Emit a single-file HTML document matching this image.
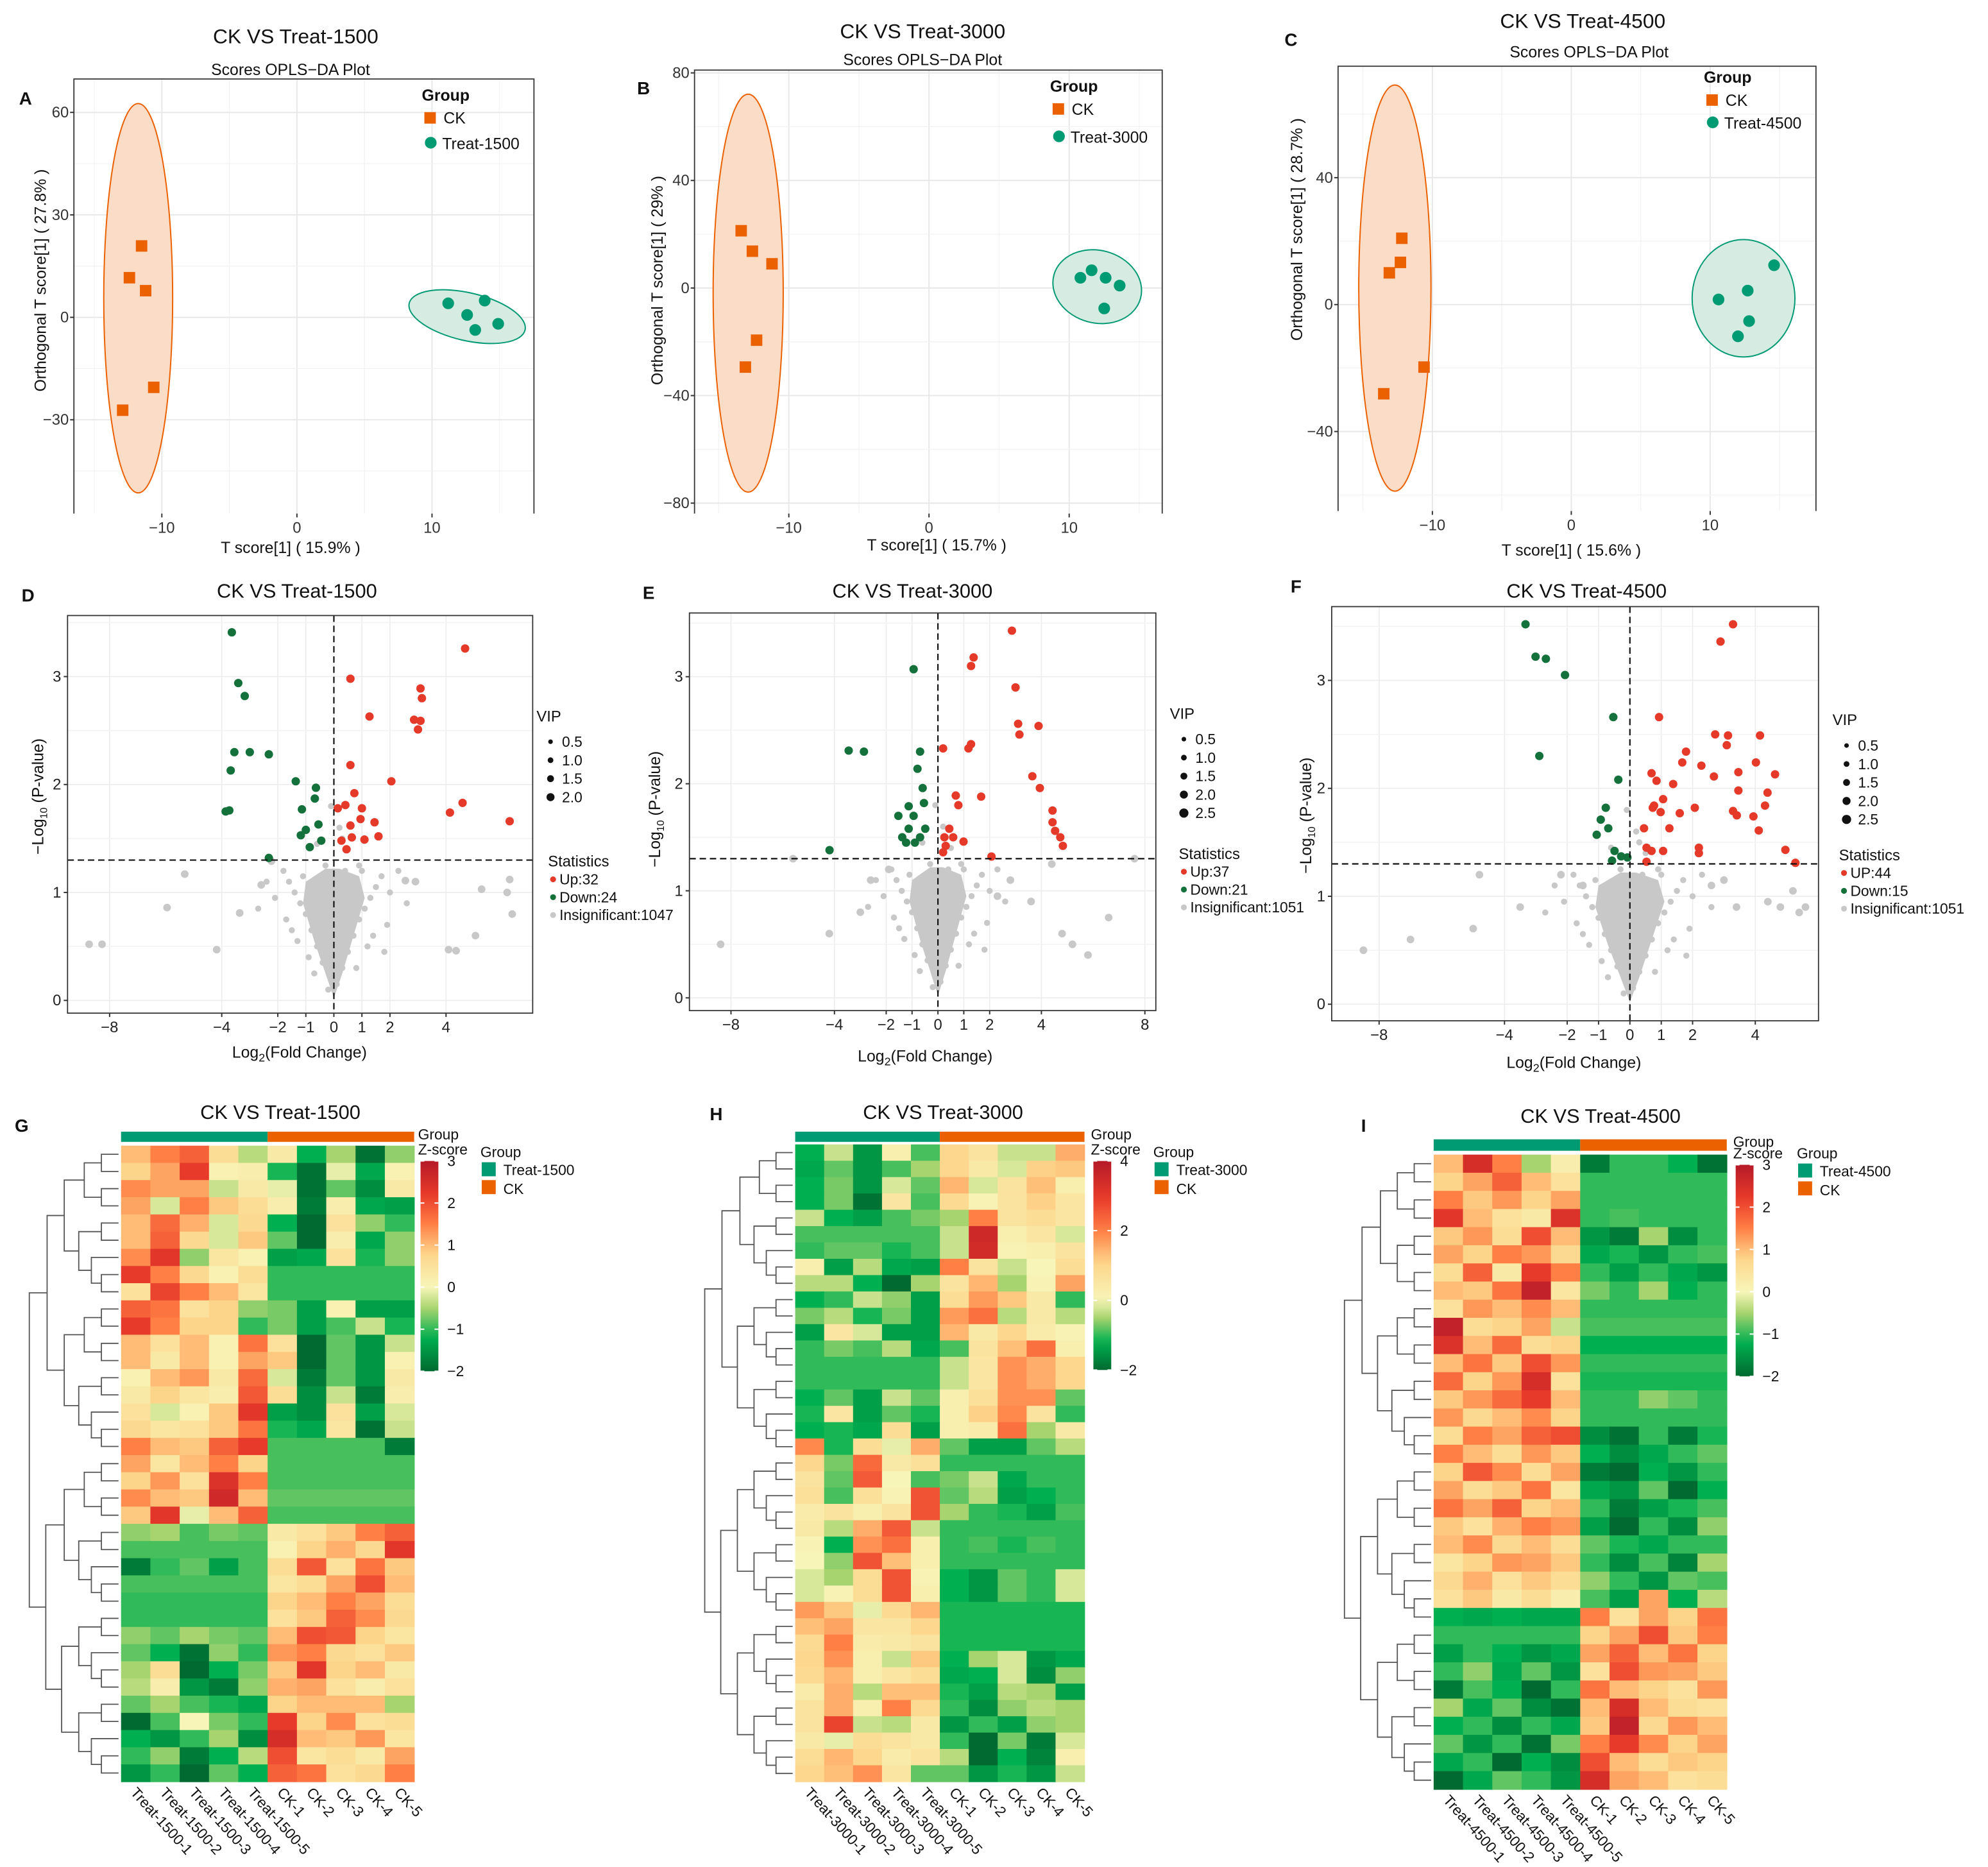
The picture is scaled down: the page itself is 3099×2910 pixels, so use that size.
<!DOCTYPE html>
<html><head><meta charset="utf-8"><style>
html,body{margin:0;padding:0;background:#fff;}
svg{display:block;font-family:"Liberation Sans",Arial,sans-serif;}
</style></head><body>
<svg id="fig" xmlns="http://www.w3.org/2000/svg" width="3099" height="2910" viewBox="0 0 1560 1465" preserveAspectRatio="none"></svg>
<script>
// ---------------- PCA data ----------------
const pcaA_ckX=[-11.5,-12.4,-11.2,-10.6,-12.9];
const pcaA_ckY=[20.9,11.6,7.8,-20.5,-27.2];
const pcaA_trX=[11.2,12.6,13.9,13.2,14.9];
const pcaA_trY=[4.1,0.7,4.9,-3.7,-1.9];
const pcaB_ckX=[-13.4,-12.6,-11.2,-12.3,-13.1];
const pcaB_ckY=[21.3,13.7,9.0,-19.4,-29.4];
const pcaB_trX=[10.8,11.6,12.6,13.6,12.5];
const pcaB_trY=[3.8,6.6,3.8,0.9,-7.6];
const pcaC_ckX=[-12.2,-13.1,-12.3,-10.6,-13.5];
const pcaC_ckY=[20.9,10.0,13.3,-19.7,-28.1];
const pcaC_trX=[10.6,12.7,14.6,12.8,12.0];
const pcaC_trY=[1.6,4.4,12.4,-5.2,-10.0];
const pcaA_ticksX=[-10,0,10], pcaA_ticksY=[60,30,0,-30];
const pcaB_ticksX=[-10,0,10], pcaB_ticksY=[80,40,0,-40,-80];
const pcaC_ticksX=[-10,0,10], pcaC_ticksY=[40,0,-40];
// ---------------- Volcano data ----------------
const volD_upX=[4.68,3.09,3.14,2.86,3.09,3.0,1.27,0.59,2.05,0.59,4.14,4.59,6.27,0.14,0.41,0.73,1.0,0.95,0.59,1.45,1.09,0.64,0.27,0.45,1.59];
const volD_upY=[3.26,2.89,2.80,2.60,2.59,2.51,2.63,2.98,2.03,2.18,1.74,1.83,1.66,1.78,1.81,1.92,1.78,1.68,1.62,1.65,1.49,1.51,1.48,1.40,1.52];
const volD_dnX=[-3.64,-3.41,-3.18,-3.55,-3.0,-3.68,-3.86,-3.73,-2.32,-0.64,-0.68,-1.36,-1.14,-0.55,-1.0,-0.45,-0.86,-1.18,-2.32];
const volD_dnY=[3.41,2.94,2.82,2.30,2.30,2.13,1.75,1.76,2.28,1.97,1.87,2.03,1.77,1.63,1.58,1.48,1.42,1.53,1.32];
const volD_nsX=[-8.73,-8.27,-5.95,-5.32,-4.18,-3.36,-2.59,-2.23,2.55,2.91,4.09,4.36,5.05,5.27,6.36,6.18,6.27];
const volD_nsY=[0.52,0.52,0.86,1.17,0.47,0.81,1.07,1.29,1.11,1.10,0.47,0.46,0.60,1.03,0.80,1.0,1.12];
const volE_upX=[2.86,1.38,1.28,3.0,3.10,3.15,3.89,0.2,1.18,1.28,3.65,3.94,4.43,4.43,4.53,4.73,4.83,1.67,0.69,0.79,0.44,0.25,0.59,0.99,0.30,2.07,0.2];
const volE_upY=[3.43,3.18,3.10,2.90,2.56,2.46,2.54,2.33,2.33,2.37,2.07,1.96,1.75,1.64,1.56,1.50,1.42,1.88,1.89,1.80,1.58,1.50,1.50,1.46,1.42,1.32,1.36];
const volE_dnX=[-0.94,-3.45,-2.86,-0.69,-0.79,-0.59,-1.13,-0.94,-1.53,-1.13,-0.49,-0.69,-1.38,-0.89,-1.23,-4.19,-0.54];
const volE_dnY=[3.07,2.31,2.30,2.30,2.14,1.96,1.79,1.70,1.70,1.58,1.58,1.50,1.50,1.45,1.45,1.38,1.82];
const volE_nsX=[-8.4,-5.6,-4.2,-3.0,-2.6,2.8,3.6,4.4,4.8,5.2,6.6,7.6,5.8,-1.9,2.3];
const volE_nsY=[0.5,1.3,0.6,0.8,1.1,1.1,0.9,1.25,0.6,0.5,0.75,1.3,0.4,1.2,0.95];
const volF_upX=[3.29,2.89,3.13,4.15,4.63,4.02,3.46,3.46,4.39,4.31,3.94,4.11,3.29,3.41,2.68,2.28,1.67,1.06,1.38,0.85,0.69,0.77,0.73,1.26,0.98,0.45,0.53,0.69,2.2,2.2,1.06,0.53,4.96,5.28,0.93,2.72,1.79,3.09,2.07,1.59];
const volF_upY=[3.52,3.36,2.49,2.49,2.13,2.24,2.15,1.98,1.96,1.84,1.74,1.61,1.79,1.75,2.11,2.21,2.24,1.90,2.04,2.07,2.14,1.84,1.82,1.63,1.78,1.63,1.45,1.42,1.45,1.40,1.42,1.32,1.43,1.31,2.66,2.50,2.34,2.40,1.82,1.77];
const volF_dnX=[-3.33,-3.01,-2.68,-2.07,-0.53,-2.89,-0.37,-0.77,-0.93,-0.69,-1.06,-0.49,-0.28,-0.57,-0.08];
const volF_dnY=[3.52,3.22,3.20,3.05,2.66,2.30,2.08,1.82,1.71,1.63,1.57,1.42,1.37,1.33,1.36];
const volF_nsX=[-8.5,-7.0,-5.0,-4.8,-3.5,-2.2,-1.5,3.0,4.4,4.8,5.2,5.4,3.4,2.6,5.6];
const volF_nsY=[0.5,0.6,0.7,1.2,0.9,1.2,1.1,1.15,0.95,0.9,1.05,0.85,0.9,1.1,0.9];
// shared insignificant cone points (log2FC, -log10 p)
const coneX=[-0.2,0.1,0.3,-0.4,0.5,-0.6,0.7,-0.8,0.2,-0.1,0.9,-1.0,1.1,-1.2,1.3,-1.4,1.5,-1.6,1.7,-1.8,0.6,-0.5,0.4,-0.3,1.0,-1.1,2.0,-2.1,1.9,-1.7,2.3,-2.4,0.8,-0.7,1.2,-1.3,0.15,-0.25,2.6,-2.7,0.5,-0.6,0.2,-0.1,0.3,1.4,-0.9,0.9,-1.5,1.8];
const coneY=[0.1,0.15,0.3,0.35,0.45,0.5,0.6,0.65,0.55,0.7,0.75,0.8,0.85,0.9,0.95,1.0,1.05,1.1,1.15,1.2,1.0,1.1,1.2,1.25,1.2,1.15,1.0,0.95,0.7,0.75,1.2,1.1,0.3,0.25,0.5,0.55,0.9,1.0,0.9,0.85,1.4,1.45,1.6,1.8,1.5,0.6,0.4,1.25,0.65,0.45];
const coneHullX=[0,0.3,0.7,1.1,0.9,0.2,-0.3,-1.0,-1.1,-0.7,-0.3];
const coneHullY=[0.02,0.25,0.6,0.95,1.15,1.22,1.22,1.1,0.9,0.55,0.25];
const volTicksX=[-8,-4,-2,-1,0,1,2,4], volTicksXE=[-8,-4,-2,-1,0,1,2,4,8], volTicksY=[0,1,2,3];
// ---------------- Heatmap data (z-scores; 5 Treat cols then 5 CK cols) ----------------
const hmG=[
[1.0,1.5,1.8,0.6,-0.4,0.3,-1.2,-0.5,-1.9,-0.6],[0.8,1.2,2.2,0.1,0.2,-1.1,-1.9,-0.1,-1.3,0.1],
[1.4,1.2,1.2,-0.3,0.3,-0.1,-1.9,-0.8,-1.6,0.3],[1.2,-0.2,1.5,0.9,0.6,0.2,-1.8,0.2,-1.3,-1.4],
[1.0,1.7,1.1,-0.2,0.7,-1.2,-2.0,0.5,-0.6,-1.0],[1.0,1.8,0.7,-0.2,0.9,-0.8,-2.0,0.2,-1.3,-0.6],
[1.4,2.3,-0.6,0.4,0.1,-1.4,-1.3,0.5,-1.1,-0.6],[2.2,1.5,0.7,0.1,0.6,-1.0,-1.0,-1.0,-1.0,-1.0],
[0.5,2.1,1.5,1.0,0.4,-1.0,-1.0,-1.0,-1.0,-1.0],[1.8,1.6,0.5,0.8,-0.6,-0.7,-1.4,0.1,-1.4,-1.4],
[2.2,1.5,0.8,0.8,-1.0,-0.7,-1.4,-0.9,-0.3,-1.1],[1.0,0.5,1.0,0.1,1.6,0.5,-2.0,-0.8,-1.5,-0.3],
[1.0,0.3,1.0,0.1,1.2,0.9,-2.0,-0.8,-1.5,0.1],[0.1,1.0,1.3,0.3,1.7,-0.2,-1.8,-0.8,-1.5,0.3],
[0.3,0.8,0.4,0.2,1.9,0.6,-1.6,-0.3,-1.8,0.2],[0.5,-0.2,0.1,0.9,2.3,-1.4,-1.6,0.5,-1.4,-0.2],
[0.7,0.4,0.5,0.9,1.6,-1.1,-1.3,0.4,-1.9,-0.3],[1.5,1.0,0.9,1.8,2.2,-0.9,-0.9,-0.9,-0.9,-1.8],
[1.2,0.4,1.0,1.5,0.8,-0.9,-0.9,-0.9,-0.9,-0.9],[0.8,1.3,0.5,2.4,1.5,-0.9,-0.9,-0.9,-0.9,-0.9],
[1.4,1.0,0.9,2.6,1.0,-0.8,-0.8,-0.8,-0.8,-0.8],[0.9,2.3,-0.1,1.0,1.8,-0.9,-0.9,-0.9,-0.9,-0.9],
[-0.6,-0.5,-0.9,-0.7,-0.8,0.3,0.5,0.9,1.5,1.8],[-0.9,-0.9,-0.9,-0.9,-0.9,0.1,0.8,1.1,0.7,2.3],
[-1.8,-1.0,-0.8,-1.4,-0.9,0.6,1.9,0.5,1.6,0.9],[-0.9,-0.9,-0.9,-0.9,-0.9,0.4,0.6,1.2,2.0,1.0],
[-1.0,-1.0,-1.0,-1.0,-1.0,0.8,1.0,1.5,1.2,0.6],[-1.0,-1.0,-1.0,-1.0,-1.0,0.5,0.9,1.8,1.4,0.7],
[-0.6,-0.8,-0.5,-0.7,-0.8,1.0,2.0,1.9,0.8,0.4],[-0.8,-1.2,-1.9,-0.6,-1.0,1.3,1.5,0.7,0.5,0.9],
[-0.5,0.6,-2.0,-1.2,-0.7,0.9,2.3,0.8,1.0,0.3],[-0.4,0.2,-1.5,-1.8,-0.6,1.1,1.2,0.5,0.2,0.5],
[-0.8,-0.5,-0.9,-1.1,-1.3,0.8,1.0,1.0,1.0,-0.5],[-2.0,-0.9,0.0,-0.7,-1.0,2.2,0.8,1.4,0.5,0.6],
[-1.2,-1.5,-1.0,-0.5,-1.6,2.5,1.0,0.9,1.3,0.4],[-1.0,-0.6,-1.8,-1.2,-0.4,2.0,0.4,0.6,0.3,1.2],
[-1.5,-1.0,-2.0,-0.8,-1.2,1.8,1.6,0.5,0.7,1.5]];
const hmH=[
[-1.2,-0.3,-1.5,0.2,-0.9,1.0,0.6,-0.3,-0.3,1.5],[-1.3,-0.8,-1.5,-0.9,-0.5,1.0,0.4,-0.2,1.1,1.2],
[-1.2,-0.7,-1.5,-0.2,-0.8,1.4,-0.2,0.6,1.3,0.2],[-1.2,-0.7,-1.9,0.5,-0.9,0.9,0.1,0.6,1.1,0.5],
[-0.3,-1.2,-1.4,-0.9,-0.7,-0.5,2.0,0.6,0.8,0.5],[-0.9,-0.9,-0.9,-0.9,-0.9,-0.3,3.5,0.2,0.5,-0.2],
[-1.0,-0.8,-0.8,-1.1,-0.9,-0.3,3.4,0.1,0.2,0.6],[0.2,-1.4,-0.4,-1.3,-1.4,2.0,0.6,-0.3,0.0,0.8],
[-0.4,-0.4,-1.2,-2.0,-0.5,0.6,1.4,-0.5,0.1,1.6],[-1.2,-1.0,-0.3,-0.6,-1.4,0.8,1.7,1.2,0.4,-1.0],
[-0.7,-0.4,-1.1,-0.7,-1.4,1.7,2.2,-0.4,0.4,-0.4],[-1.4,0.5,-0.2,-1.4,-1.4,1.4,0.4,1.0,0.3,0.1],
[-1.0,-0.7,-0.9,-0.4,-1.3,-0.9,0.6,1.3,2.2,0.2],[-1.0,-1.0,-1.0,-1.0,-1.0,-0.3,0.5,1.8,1.5,1.0],
[-1.0,-1.0,-1.0,-1.0,-1.0,-0.3,0.5,1.8,1.5,1.0],[-1.2,-0.8,-1.4,-0.3,-0.8,0.2,0.7,1.8,1.8,-0.8],
[-1.1,0.5,-1.4,-0.8,-1.1,0.2,1.1,1.9,0.6,-1.0],[-1.2,-1.1,-1.3,0.8,-1.4,0.2,0.3,2.2,-0.5,0.4],
[1.9,-1.1,0.8,-0.1,1.5,-0.8,-1.4,-1.4,-0.8,-0.4],[1.0,-0.7,2.3,0.4,0.7,-1.0,-1.0,-1.0,-1.0,-1.0],
[0.6,-0.8,2.5,0.0,-0.9,-0.7,-0.3,-1.3,-1.0,-1.0],[0.7,-0.9,0.7,0.1,2.6,-0.8,-0.4,-1.4,-1.2,-1.0],
[0.3,0.6,0.2,0.6,2.6,-0.5,-1.0,-1.1,-1.4,-0.9],[0.4,-0.4,1.5,2.5,-0.3,-1.0,-1.0,-1.0,-1.0,-1.0],
[0.1,-1.2,1.8,2.2,0.2,-1.0,-0.9,-1.1,-0.9,-1.0],[0.0,-0.6,2.6,1.3,0.2,-1.0,-1.0,-1.0,-1.0,-1.0],
[-0.2,-0.5,0.8,2.6,0.1,-1.2,-1.5,-0.8,-1.0,-0.2],[-0.2,0.1,0.8,2.6,0.2,-1.2,-1.5,-0.8,-1.0,-0.2],
[1.7,1.2,-0.1,0.9,1.4,-1.1,-1.1,-1.1,-1.1,-1.1],[1.3,1.6,0.5,0.5,1.0,-1.1,-1.1,-1.1,-1.1,-1.1],
[0.9,2.0,0.3,0.4,0.6,-1.1,-1.1,-1.1,-1.1,-1.1],[1.0,1.8,0.2,-0.3,1.2,-1.2,-0.5,-0.2,-1.5,-1.3],
[0.9,1.4,0.2,0.5,0.8,-1.3,-1.2,-0.2,-1.6,-0.6],[0.3,1.5,-0.4,1.3,1.3,-1.1,-1.4,-0.4,-0.5,-1.4],
[0.6,1.5,0.2,2.0,0.9,-1.0,-1.6,-0.6,-0.4,-0.5],[0.6,2.8,-0.3,-0.4,0.4,-1.5,-1.0,-1.4,-0.6,-0.5],
[0.4,-0.1,0.8,0.6,0.4,-1.0,-2.0,-0.7,-1.8,-0.2],[0.8,1.4,1.0,0.3,0.6,-0.4,-2.0,-1.2,-1.7,0.2],
[1.0,1.3,1.8,0.5,-0.8,-0.8,-1.5,-1.1,-1.5,-0.3]];
const hmI=[
[1.0,2.5,1.5,-0.5,0.2,-1.8,-1.0,-1.0,-1.2,-1.9],[0.8,1.2,1.8,1.0,0.5,-1.0,-1.0,-1.0,-1.0,-1.0],
[1.5,0.9,1.3,0.8,1.2,-1.0,-1.0,-1.0,-1.0,-1.0],[2.3,1.0,0.5,0.3,2.4,-1.0,-0.9,-1.0,-1.0,-1.0],
[0.9,1.3,0.6,2.0,1.0,-1.5,-1.8,-0.5,-1.6,-1.0],[1.2,0.8,1.5,1.3,0.7,-1.3,-1.1,-1.5,-1.0,-0.9],
[0.6,1.8,0.3,2.2,1.5,-1.0,-1.4,-1.0,-1.3,-1.5],[1.0,0.9,1.6,2.8,0.4,-0.7,-1.0,-0.5,-1.2,-1.0],
[0.5,1.3,1.0,1.4,1.0,-1.0,-1.0,-1.0,-1.0,-1.0],[2.8,0.6,0.8,1.2,-0.3,-0.9,-0.9,-0.9,-0.9,-0.9],
[2.4,1.0,1.7,0.6,0.8,-1.2,-1.2,-1.2,-1.2,-1.2],[1.0,1.6,0.9,2.0,1.3,-1.0,-1.0,-1.0,-1.0,-1.0],
[1.7,0.8,1.3,2.5,0.5,-1.1,-1.1,-1.1,-1.1,-1.1],[0.9,1.3,1.7,2.2,1.0,-1.0,-1.0,-0.6,-0.8,-1.0],
[1.3,0.7,1.0,1.4,0.8,-1.0,-1.0,-1.0,-1.0,-1.0],[0.6,1.5,1.2,1.8,2.0,-1.6,-1.9,-1.0,-1.8,-1.1],
[1.5,1.0,0.6,1.3,0.9,-1.2,-1.6,-1.3,-1.0,-0.8],[0.8,1.9,1.4,0.6,1.2,-1.8,-2.0,-1.2,-1.5,-1.0],
[1.2,0.6,0.9,1.6,0.4,-1.3,-1.5,-0.8,-2.0,-1.2],[1.6,1.2,1.8,0.8,1.0,-1.0,-1.8,-1.4,-1.1,-0.9],
[0.9,0.5,1.1,1.5,1.3,-1.4,-2.0,-1.0,-1.6,-0.6],[1.0,1.4,0.7,1.0,0.6,-0.8,-1.1,-1.3,-1.0,-1.0],
[0.4,0.8,1.3,1.2,0.9,-1.0,-1.6,-0.9,-1.7,-0.5],[0.7,1.1,0.5,0.9,0.6,-0.6,-1.0,-1.5,-0.8,-0.9],
[0.5,0.9,0.3,0.6,0.2,-0.9,-1.4,1.2,-1.2,-0.4],
[-1.2,-1.3,-1.2,-1.3,-1.3,1.5,0.5,1.2,0.8,1.6],[-1.0,-1.0,-1.0,-1.0,-1.0,0.8,1.2,2.0,0.9,1.5],
[-1.4,-1.0,-1.2,-1.5,-1.3,1.2,1.8,1.0,1.6,0.8],[-1.0,-0.6,-1.3,-0.8,-1.5,0.5,2.0,1.3,1.2,0.9],
[-1.8,-0.9,-1.2,-2.0,-1.0,1.6,1.0,0.8,0.5,1.3],[-0.5,-1.3,-0.8,-1.6,-1.9,1.0,2.5,1.0,0.6,0.5],
[-1.2,-1.0,-1.6,-1.0,-1.3,0.9,2.8,0.7,1.3,1.0],[-0.8,-1.5,-1.0,-1.9,-0.7,1.5,2.2,1.4,0.8,1.2],
[-1.3,-1.0,-2.0,-1.2,-1.6,2.0,1.0,0.6,0.9,0.8],[-2.0,-1.3,-0.8,-1.0,-1.5,2.5,1.2,1.0,0.5,0.6]];
const colG=["Treat-1500-1","Treat-1500-2","Treat-1500-3","Treat-1500-4","Treat-1500-5","CK-1","CK-2","CK-3","CK-4","CK-5"];
const colH=["Treat-3000-1","Treat-3000-2","Treat-3000-3","Treat-3000-4","Treat-3000-5","CK-1","CK-2","CK-3","CK-4","CK-5"];
const colI=["Treat-4500-1","Treat-4500-2","Treat-4500-3","Treat-4500-4","Treat-4500-5","CK-1","CK-2","CK-3","CK-4","CK-5"];
const zTicks3=[3,2,1,0,-1,-2], zTicks4=[4,2,0,-2];

// ---------------- helpers ----------------
const NS="http://www.w3.org/2000/svg";
const svg=document.getElementById('fig');
function mk(tag,attrs,name,parent){
  const el=document.createElementNS(NS,tag);
  for(const k in attrs) el.setAttribute(k,attrs[k]);
  
  
  (parent||svg).appendChild(el);
  return el;
}
function txt(x,y,s,size,name,opt,parent){
  opt=opt||{};
  const a={x:x,y:y,'font-size':size,fill:opt.fill||'#111','text-anchor':opt.anchor||'middle'};
  if(opt.bold) a['font-weight']='bold';
  if(opt.rot!==undefined) a.transform='rotate('+opt.rot+' '+x+' '+y+')';
  const t=mk('text',a,name,parent);
  t.textContent=s;
  return t;
}
function grp(name){return mk('g',{},name);}
const ORANGE='#eb6100', TEAL='#009a73';

// ---------------- PCA panel ----------------
function pca(c){
  const g=grp(c.id+'-panel');
  const X=v=>c.x0+v*c.kx, Y=v=>c.y0+v*c.ky;
  const [bx0,by0,bx1,by1]=c.box;
  for(let i=0;i<c.tx.length;i++){ const v=c.tx[i];
    [v-5,v+5].forEach(m=>{const px=X(m); if(px>bx0&&px<bx1) mk('line',{x1:px,y1:by0,x2:px,y2:by1,stroke:'#f2f2f2','stroke-width':0.6},'minor-grid-x',g);});
    mk('line',{x1:X(v),y1:by0,x2:X(v),y2:by1,stroke:'#e8e8e8','stroke-width':1},'grid-x',g);
  }
  const stepY=Math.abs(c.ty[0]-c.ty[1]);
  c.ty.forEach(v=>{
    [v-stepY/2,v+stepY/2].forEach(m=>{const py=Y(m); if(py>by0&&py<by1) mk('line',{x1:bx0,y1:py,x2:bx1,y2:py,stroke:'#f2f2f2','stroke-width':0.6},'minor-grid-y',g);});
    mk('line',{x1:bx0,y1:Y(v),x2:bx1,y2:Y(v),stroke:'#e8e8e8','stroke-width':1},'grid-y',g);
  });
  mk('ellipse',{cx:X(c.e1[0]),cy:Y(c.e1[1]),rx:c.e1[2]*c.kx,ry:-c.e1[3]*c.ky,fill:'#fbdcc6',stroke:ORANGE,'stroke-width':1},'ck-confidence-ellipse',g);
  mk('ellipse',{cx:X(c.e2[0]),cy:Y(c.e2[1]),rx:c.e2[2]*c.kx,ry:-c.e2[3]*c.ky,fill:'#d6ece3',stroke:TEAL,'stroke-width':1,transform:'rotate('+c.e2[4]+' '+X(c.e2[0])+' '+Y(c.e2[1])+')'},'treat-confidence-ellipse',g);
  c.ckX.forEach((v,i)=>mk('rect',{x:X(v)-4.5,y:Y(c.ckY[i])-4.5,width:9,height:9,fill:ORANGE},'ck-sample-point',g));
  c.trX.forEach((v,i)=>mk('circle',{cx:X(v),cy:Y(c.trY[i]),r:4.6,fill:TEAL},'treat-sample-point',g));
  mk('path',{d:`M${bx0},${by1}V${by0}H${bx1}V${by1}`,fill:'none',stroke:'#333','stroke-width':0.9},'plot-frame',g);
  c.tx.forEach(v=>{mk('line',{x1:X(v),y1:by1,x2:X(v),y2:by1+3,stroke:'#333'},'x-tick',g); txt(X(v),by1+15,String(v).replace('-','−'),12,'x-tick-label',{fill:'#333'},g);});
  c.ty.forEach(v=>{mk('line',{x1:bx0-3,y1:Y(v),x2:bx0,y2:Y(v),stroke:'#333'},'y-tick',g); txt(bx0-4,Y(v)+4,String(v).replace('-','−'),12,'y-tick-label',{fill:'#333',anchor:'end'},g);});
  txt(c.title[0],c.title[1],c.titleText,16,'panel-title',{},g);
  txt(c.sub[0],c.sub[1],'Scores OPLS−DA Plot',12.5,'panel-subtitle',{},g);
  txt(c.letter[0],c.letter[1],c.letterText,14,'panel-letter',{bold:1},g);
  txt(c.xl[0],c.xl[1],c.xlText,12.5,'x-axis-title',{},g);
  txt(c.yl[0],c.yl[1],c.ylText,12.5,'y-axis-title',{rot:-90},g);
  const [lx,ly]=c.leg;
  txt(lx,ly,'Group',12.5,'legend-title',{bold:1,anchor:'start'},g);
  mk('rect',{x:lx+2,y:ly+9,width:9,height:9,fill:ORANGE},'legend-ck-swatch',g);
  txt(lx+17,ly+18,'CK',12.5,'legend-ck-label',{anchor:'start'},g);
  mk('circle',{cx:lx+7,cy:ly+c.legGap+13,r:4.6,fill:TEAL},'legend-treat-swatch',g);
  txt(lx+16,ly+c.legGap+18,c.legTreat,12.5,'legend-treat-label',{anchor:'start'},g);
}
pca({id:'pca-a',box:[58,62,419,403],x0:233,kx:10.6,y0:249,ky:-2.68,tx:pcaA_ticksX,ty:pcaA_ticksY,
 ckX:pcaA_ckX,ckY:pcaA_ckY,trX:pcaA_trX,trY:pcaA_trY,e1:[-11.75,5.6,2.55,57],e2:[12.6,0.2,4.4,7.0,13],
 title:[232,34],titleText:'CK VS Treat-1500',sub:[228,59],letter:[20,82],letterText:'A',xl:[228,434],xlText:'T score[1] ( 15.9% )',
 yl:[36,220],ylText:'Orthogonal T score[1] ( 27.8% )',leg:[331,79],legGap:20,legTreat:'Treat-1500'});
pca({id:'pca-b',box:[545,55,912,403],x0:729,kx:11,y0:226,ky:-2.11,tx:pcaB_ticksX,ty:pcaB_ticksY,
 ckX:pcaB_ckX,ckY:pcaB_ckY,trX:pcaB_trX,trY:pcaB_trY,e1:[-12.9,-1.9,2.5,74],e2:[12.0,0.5,3.2,13.5,15],
 title:[724,30],titleText:'CK VS Treat-3000',sub:[724,51],letter:[505,74],letterText:'B',xl:[735,432],xlText:'T score[1] ( 15.7% )',
 yl:[520,220],ylText:'Orthogonal T score[1] ( 29% )',leg:[824,72],legGap:22,legTreat:'Treat-3000'});
pca({id:'pca-c',box:[1050,52,1425,401],x0:1233,kx:10.9,y0:239,ky:-2.49,tx:pcaC_ticksX,ty:pcaC_ticksY,
 ckX:pcaC_ckX,ckY:pcaC_ckY,trX:pcaC_trX,trY:pcaC_trY,e1:[-12.7,5.2,2.6,64],e2:[12.4,2.0,3.7,18.5,0],
 title:[1242,22],titleText:'CK VS Treat-4500',sub:[1247,45],letter:[1013,36],letterText:'C',xl:[1233,436],xlText:'T score[1] ( 15.6% )',
 yl:[1022,180],ylText:'Orthogonal T score[1] ( 28.7% )',leg:[1337,65],legGap:18,legTreat:'Treat-4500'});

// ---------------- Volcano panel ----------------
function volcano(c){
  const g=grp(c.id+'-panel');
  const X=v=>c.x0+v*c.kx, Y=v=>c.y0+v*c.ky;
  const [bx0,by0,bx1,by1]=c.box;
  c.tx.forEach(v=>mk('line',{x1:X(v),y1:by0,x2:X(v),y2:by1,stroke:'#ececec','stroke-width':0.8},'grid-x',g));
  [0,0.5,1,1.5,2,2.5,3,3.5].forEach(v=>{const p=Y(v); if(p>by0&&p<by1) mk('line',{x1:bx0,y1:p,x2:bx1,y2:p,stroke:(v%1?'#f3f3f3':'#ececec'),'stroke-width':0.8},'grid-y',g);});
  let d=coneHullX.map((v,i)=>(i?'L':'M')+X(v)+','+Y(coneHullY[i])).join('')+'Z';
  mk('path',{d:d,fill:'#c8c8c8'},'insignificant-dense-cloud',g);
  coneX.forEach((v,i)=>mk('circle',{cx:X(v),cy:Y(coneY[i]),r:2.4,fill:'#c8c8c8'},'insignificant-point',g));
  c.nsX.forEach((v,i)=>mk('circle',{cx:X(v),cy:Y(c.nsY[i]),r:3,fill:'#c8c8c8'},'insignificant-point',g));
  c.upX.forEach((v,i)=>mk('circle',{cx:X(v),cy:Y(c.upY[i]),r:3.3,fill:'#e5392a'},'up-regulated-point',g));
  c.dnX.forEach((v,i)=>mk('circle',{cx:X(v),cy:Y(c.dnY[i]),r:3.3,fill:'#14713b'},'down-regulated-point',g));
  mk('line',{x1:bx0,y1:Y(1.3),x2:bx1,y2:Y(1.3),stroke:'#111','stroke-width':1.1,'stroke-dasharray':'5,3'},'p-threshold-line',g);
  mk('line',{x1:X(0),y1:by0,x2:X(0),y2:by1,stroke:'#111','stroke-width':1.1,'stroke-dasharray':'5,3'},'fc-zero-line',g);
  mk('rect',{x:bx0,y:by0,width:bx1-bx0,height:by1-by0,fill:'none',stroke:'#333','stroke-width':0.9},'plot-frame',g);
  c.tx.forEach(v=>{mk('line',{x1:X(v),y1:by1,x2:X(v),y2:by1+3,stroke:'#333'},'x-tick',g); txt(X(v),by1+15,String(v).replace('-','−'),12,'x-tick-label',{fill:'#222'},g);});
  volTicksY.forEach(v=>{mk('line',{x1:bx0-3,y1:Y(v),x2:bx0,y2:Y(v),stroke:'#333'},'y-tick',g); txt(bx0-5,Y(v)+4,String(v),12,'y-tick-label',{fill:'#222',anchor:'end'},g);});
  txt(c.title[0],c.title[1],c.titleText,15.5,'panel-title',{},g);
  txt(c.letter[0],c.letter[1],c.letterText,14,'panel-letter',{bold:1},g);
  const xl=txt(c.xl[0],c.xl[1],'',12.5,'x-axis-title',{},g);
  xl.innerHTML='Log<tspan font-size="9" dy="3">2</tspan><tspan dy="-3">(Fold Change)</tspan>';
  const yl=txt(c.yl[0],c.yl[1],'',12.5,'y-axis-title',{rot:-90},g);
  yl.innerHTML='−Log<tspan font-size="8" dy="3">10</tspan><tspan dy="-3"> (P-value)</tspan>';
  const [vx,vy]=c.vip;
  txt(vx,vy,'VIP',12,'vip-legend-title',{anchor:'start'},g);
  c.vipLabels.forEach((s,i)=>{
    mk('circle',{cx:vx+11,cy:vy+16+i*14.5,r:1.8+i*0.45,fill:'#111'},'vip-legend-dot',g);
    txt(vx+20,vy+20+i*14.5,s,11.5,'vip-legend-label',{anchor:'start'},g);
  });
  const [sx,sy]=c.stat;
  txt(sx,sy,'Statistics',12,'statistics-legend-title',{anchor:'start'},g);
  const cols=['#e5392a','#14713b','#c8c8c8'];
  c.statLabels.forEach((s,i)=>{
    mk('circle',{cx:sx+4,cy:sy+10+i*14,r:2.3,fill:cols[i]},'statistics-legend-dot',g);
    txt(sx+9,sy+14+i*14,s,11.5,'statistics-legend-label',{anchor:'start'},g);
  });
}
volcano({id:'volcano-d',box:[53,483,418,795],x0:262,kx:22,y0:785,ky:-84.7,tx:volTicksX,
 upX:volD_upX,upY:volD_upY,dnX:volD_dnX,dnY:volD_dnY,nsX:volD_nsX,nsY:volD_nsY,
 title:[233,469],titleText:'CK VS Treat-1500',letter:[22,472],letterText:'D',xl:[235,830],yl:[34,625],
 vip:[421,566],vipLabels:['0.5','1.0','1.5','2.0'],stat:[430,680],statLabels:['Up:32','Down:24','Insignificant:1047']});
volcano({id:'volcano-e',box:[541,481,907,793],x0:736,kx:20.3,y0:783,ky:-84,tx:volTicksXE,
 upX:volE_upX,upY:volE_upY,dnX:volE_dnX,dnY:volE_dnY,nsX:volE_nsX,nsY:volE_nsY,
 title:[716,469],titleText:'CK VS Treat-3000',letter:[509,470],letterText:'E',xl:[726,833],yl:[518,635],
 vip:[918,564],vipLabels:['0.5','1.0','1.5','2.0','2.5'],stat:[925,674],statLabels:['Up:37','Down:21','Insignificant:1051']});
volcano({id:'volcano-f',box:[1045,476,1427,801],x0:1279,kx:24.6,y0:788,ky:-84.7,tx:volTicksX,
 upX:volF_upX,upY:volF_upY,dnX:volF_dnX,dnY:volF_dnY,nsX:volF_nsX,nsY:volF_nsY,
 title:[1245,469],titleText:'CK VS Treat-4500',letter:[1017,465],letterText:'F',xl:[1235,838],yl:[1029,640],
 vip:[1438,569],vipLabels:['0.5','1.0','1.5','2.0','2.5'],stat:[1443,675],statLabels:['UP:44','Down:15','Insignificant:1051']});

// ---------------- Heatmap panel ----------------
const cStops=[[-2,[0,106,48]],[-1.2,[0,176,80]],[-0.5,[168,212,111]],[0,[247,245,184]],[0.8,[253,213,138]],[1.5,[255,127,69]],[2.2,[232,58,42]],[3,[181,26,40]]];
function zcol(z,maxz){
  let t=z; if(maxz>3) t=z>0? z*3/maxz : z;
  t=Math.max(-2,Math.min(3,t));
  for(let i=1;i<cStops.length;i++){ if(t<=cStops[i][0]){ const a=cStops[i-1],b=cStops[i],f=(t-a[0])/(b[0]-a[0]);
    const c=a[1].map((v,k)=>Math.round(v+(b[1][k]-v)*f)); return 'rgb('+c.join(',')+')'; } }
  return 'rgb(181,26,40)';
}
function heatmap(c){
  const g=grp(c.id+'-panel');
  const rows=c.data.length, ncol=10;
  const cw=(c.x1-c.x0)/ncol, rh=(c.y1-c.y0)/rows;
  c.data.forEach((row,r)=>row.forEach((z,k)=>mk('rect',{x:c.x0+k*cw,y:c.y0+r*rh,width:cw+0.4,height:rh+0.4,fill:zcol(z,c.maxz)},'heatmap-cell',g)));
  mk('rect',{x:c.x0,y:c.gb,width:cw*5,height:c.gbh,fill:TEAL},'group-bar-treat',g);
  mk('rect',{x:c.x0+cw*5,y:c.gb,width:cw*5,height:c.gbh,fill:ORANGE},'group-bar-ck',g);
  const W=c.x0-c.dx;
  function build(lo,hi){
    if(hi-lo===1) return {y:c.y0+(lo+0.5)*rh,h:0};
    const m=Math.floor((lo+hi)/2), a=build(lo,m), b=build(m,hi);
    const h=Math.min(1,Math.log2(hi-lo)/Math.log2(rows))*W;
    const xp=c.x0-h-2, xa=c.x0-a.h-2, xb=c.x0-b.h-2;
    mk('path',{d:`M${xa},${a.y}H${xp}V${b.y}H${xb}`,fill:'none',stroke:'#555','stroke-width':0.9},'row-dendrogram-branch',g);
    return {y:(a.y+b.y)/2,h:h};
  }
  build(0,rows);
  c.cols.forEach((s,k)=>txt(c.x0+k*cw+cw*0.3,c.y1+9,s,11.5,'column-label',{anchor:'start',rot:48},g));
  txt(c.title[0],c.title[1],c.titleText,15.5,'panel-title',{},g);
  txt(c.letter[0],c.letter[1],c.letterText,14,'panel-letter',{bold:1},g);
  const [bx,by0,by1]=c.cbar;
  const gid=c.id+'-grad';
  const defs=mk('defs',{},'defs',g);
  const lg=mk('linearGradient',{id:gid,x1:0,y1:1,x2:0,y2:0},'colorbar-gradient',defs);
  for(let i=0;i<=20;i++){ const z=c.ztop>3? -2+(c.ztop+2)*i/20 : -2+5*i/20;
    mk('stop',{offset:(i/20),'stop-color':zcol(z,c.maxz)},'gradient-stop',lg);}
  mk('rect',{x:bx,y:by0,width:14,height:by1-by0,fill:'url(#'+gid+')'},'z-score-colorbar',g);
  c.zt.forEach(v=>{const p=by1-(v+2)/(c.ztop+2)*(by1-by0);
    mk('line',{x1:bx,y1:p,x2:bx+3,y2:p,stroke:'#fff'},'colorbar-tick',g);
    mk('line',{x1:bx+11,y1:p,x2:bx+14,y2:p,stroke:'#fff'},'colorbar-tick',g);
    txt(bx+21,p+4,String(v).replace('-','−'),11.5,'colorbar-tick-label',{anchor:'start'},g);});
  txt(bx-2,c.gb+6,'Group',11.5,'group-annotation-label',{anchor:'start'},g);
  txt(bx-2,by0-5,'Z-score',11.5,'z-score-title',{anchor:'start'},g);
  const [lx,ly]=c.leg;
  txt(lx,ly,'Group',11.5,'group-legend-title',{anchor:'start'},g);
  mk('rect',{x:lx+1,y:ly+4,width:11,height:11,fill:TEAL},'legend-treat-swatch',g);
  txt(lx+18,ly+14,c.treatName,11.5,'legend-treat-label',{anchor:'start'},g);
  mk('rect',{x:lx+1,y:ly+18,width:11,height:11,fill:ORANGE},'legend-ck-swatch',g);
  txt(lx+18,ly+29,'CK',11.5,'legend-ck-label',{anchor:'start'},g);
}
heatmap({id:'heatmap-g',data:hmG,cols:colG,x0:95,x1:325,y0:899,y1:1398,gb:888,gbh:8,dx:25,maxz:3,ztop:3,zt:zTicks3,
 cbar:[330,911,1076],leg:[377,908],treatName:'Treat-1500',title:[220,878],titleText:'CK VS Treat-1500',letter:[17,888],letterText:'G'});
heatmap({id:'heatmap-h',data:hmH,cols:colH,x0:624,x1:851,y0:898,y1:1398,gb:888,gbh:8,dx:555,maxz:4,ztop:4,zt:zTicks4,
 cbar:[858,911,1075],leg:[905,908],treatName:'Treat-3000',title:[740,878],titleText:'CK VS Treat-3000',letter:[562,879],letterText:'H'});
heatmap({id:'heatmap-i',data:hmI,cols:colI,x0:1125,x1:1355,y0:906,y1:1404,gb:894,gbh:9,dx:1057,maxz:3,ztop:3,zt:zTicks3,
 cbar:[1362,914,1080],leg:[1410,909],treatName:'Treat-4500',title:[1256,881],titleText:'CK VS Treat-4500',letter:[1070,888],letterText:'I'});
</script>
</body></html>
